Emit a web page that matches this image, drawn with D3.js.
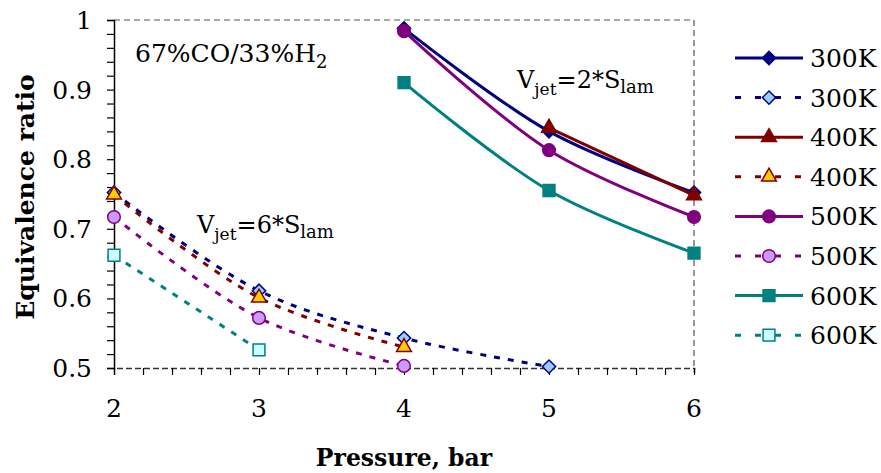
<!DOCTYPE html>
<html>
<head>
<meta charset="utf-8">
<script src="https://cdn.jsdelivr.net/npm/d3@7"></script>
<style>
  body { margin: 0; background: #fff; }
  svg text { font-family: "DejaVu Serif", serif; fill: #000; }
</style>
</head>
<body>
<svg id="chart" width="881" height="473"></svg>
<script>
// pressure (bar) where each group was measured
var xJet2 = [4, 5, 6],
    xJet6 = [2, 3, 4, 5];

// Vjet = 2*Slam (solid lines)
var jet2_300K = [0.988, 0.840, 0.752],
    jet2_400K = [null, 0.845, 0.748],
    jet2_500K = [0.984, 0.813, 0.717],
    jet2_600K = [0.910, 0.755, 0.665];

// Vjet = 6*Slam (dashed lines)
var jet6_300K = [0.752, 0.611, 0.543, 0.502],
    jet6_400K = [0.749, 0.601, 0.530, null],
    jet6_500K = [0.717, 0.572, 0.503, null],
    jet6_600K = [0.662, 0.526, null, null];

var xTicks = [2, 3, 4, 5, 6],
    yTicks = [0.5, 0.6, 0.7, 0.8, 0.9, 1];

var series = [
    {name: "300K", x: xJet2, y: jet2_300K, color: "#000080", fill: "#000080", shape: "diamond", dashed: false},
    {name: "300K", x: xJet6, y: jet6_300K, color: "#000080", fill: "#99ccff", shape: "diamond", dashed: true},
    {name: "400K", x: xJet2, y: jet2_400K, color: "#800000", fill: "#800000", shape: "triangle", dashed: false},
    {name: "400K", x: xJet6, y: jet6_400K, color: "#800000", fill: "#ffcc00", shape: "triangle", dashed: true},
    {name: "500K", x: xJet2, y: jet2_500K, color: "#800080", fill: "#800080", shape: "circle", dashed: false},
    {name: "500K", x: xJet6, y: jet6_500K, color: "#800080", fill: "#cc99ff", shape: "circle", dashed: true},
    {name: "600K", x: xJet2, y: jet2_600K, color: "#008080", fill: "#008080", shape: "square", dashed: false},
    {name: "600K", x: xJet6, y: jet6_600K, color: "#008080", fill: "#ccffff", shape: "square", dashed: true}
];

var margin = {top: 20, left: 114},
    innerwidth = 580,
    innerheight = 348;

var svg = d3.select("#chart");
var g = svg.append("g")
    .attr("transform", "translate(" + margin.left + "," + margin.top + ")");

var xScale = d3.scaleLinear().domain([2, 6]).range([0, innerwidth]);
var yScale = d3.scaleLinear().domain([0.5, 1]).range([innerheight, 0]);

var symbols = {
    diamond: d3.symbol().type(d3.symbolSquare).size(88),
    triangle: d3.symbol().type(d3.symbolTriangle).size(95),
    circle: d3.symbol().type(d3.symbolCircle).size(125),
    square: d3.symbol().type(d3.symbolSquare).size(140)
};
function markerRotation(shape) { return shape == "diamond" ? " rotate(45)" : ""; }

// dashed frame on top and right
g.append("path")
    .attr("d", "M0,0H" + innerwidth + "V" + innerheight)
    .attr("fill", "none")
    .attr("stroke", "#555")
    .attr("stroke-width", 1.2)
    .attr("stroke-dasharray", "6,4");

// x axis: minor ticks every 0.2
var xAxis = g.append("g")
    .attr("class", "x axis")
    .attr("transform", "translate(0," + innerheight + ")")
    .call(d3.axisBottom(xScale)
        .tickValues(d3.range(2, 6.01, 0.2))
        .tickSize(7)
        .tickFormat(""));
xAxis.select(".domain").attr("stroke", "#333").attr("stroke-dasharray", "6,3").attr("stroke-width", 1.5);
xAxis.selectAll(".tick line").attr("stroke", "#000").attr("stroke-width", 1.2);

g.append("g")
    .selectAll("text")
    .data(xTicks)
    .enter().append("text")
    .attr("x", function(d) { return xScale(d); })
    .attr("y", innerheight + 49)
    .attr("text-anchor", "middle")
    .style("font-size", "25px")
    .text(function(d) { return d; });

// y axis: minor ticks every 0.02
var yAxis = g.append("g")
    .attr("class", "y axis")
    .call(d3.axisLeft(yScale)
        .tickValues(d3.range(0, 26).map(function(i) { return 0.5 + i * 0.02; }))
        .tickSize(7)
        .tickFormat(""));
yAxis.select(".domain").attr("stroke", "#000").attr("stroke-width", 1.5);
yAxis.selectAll(".tick line").attr("stroke", "#000").attr("stroke-width", 1.2);

g.append("g")
    .selectAll("text")
    .data(yTicks)
    .enter().append("text")
    .attr("x", -22)
    .attr("y", function(d) { return yScale(d); })
    .attr("dy", "0.36em")
    .attr("text-anchor", "end")
    .style("font-size", "25px")
    .text(function(d) { return d; });

// lines and markers
var line = d3.line()
    .defined(function(d) { return d[1] != null; })
    .x(function(d) { return xScale(d[0]); })
    .y(function(d) { return yScale(d[1]); })
    .curve(d3.curveCatmullRom.alpha(0.5));

series.forEach(function(s) {
    var pts = s.x.map(function(x, i) { return [x, s.y[i]]; })
        .filter(function(d) { return d[1] != null; });
    g.append("path")
        .datum(pts)
        .attr("d", line)
        .attr("fill", "none")
        .attr("stroke", s.color)
        .attr("stroke-width", 3)
        .attr("stroke-dasharray", s.dashed ? "6,8" : null);
    g.selectAll(null)
        .data(pts)
        .enter().append("path")
        .attr("transform", function(d) {
            return "translate(" + xScale(d[0]) + "," + yScale(d[1]) + ")" + markerRotation(s.shape);
        })
        .attr("d", symbols[s.shape]())
        .attr("fill", s.fill)
        .attr("stroke", s.color)
        .attr("stroke-width", 1.5);
});

// annotations
var note1 = g.append("text").attr("x", 21).attr("y", 42).style("font-size", "25px");
note1.append("tspan").text("67%CO/33%H");
note1.append("tspan").attr("dy", 6).style("font-size", "18px").text("2");

function jetLabel(x, y, factor) {
    var t = g.append("text").attr("x", x).attr("y", y).style("font-size", "24px");
    t.append("tspan").text("V");
    t.append("tspan").attr("dy", 7).style("font-size", "17px").text("jet");
    t.append("tspan").attr("dy", -7).text("=" + factor + "*S");
    t.append("tspan").attr("dy", 5).style("font-size", "18px").text("lam");
}
jetLabel(403, 68, 2);
jetLabel(83, 213, 6);

// axis titles
svg.append("text")
    .attr("x", margin.left + innerwidth / 2)
    .attr("y", 466)
    .attr("text-anchor", "middle")
    .style("font-size", "23.5px")
    .style("font-weight", "bold")
    .text("Pressure, bar");

svg.append("text")
    .attr("transform", "translate(34,197) rotate(-90)")
    .attr("text-anchor", "middle")
    .style("font-size", "25px")
    .style("font-weight", "bold")
    .text("Equivalence ratio");

// legend
var legend = svg.append("g").attr("transform", "translate(735,58)");
var item = legend.selectAll("g")
    .data(series)
    .enter().append("g")
    .attr("transform", function(d, i) { return "translate(0," + (i * 39.6) + ")"; });
item.append("line")
    .attr("x1", 0).attr("x2", 68)
    .attr("stroke", function(d) { return d.color; })
    .attr("stroke-width", 3)
    .attr("stroke-dasharray", function(d) { return d.dashed ? "6,14" : null; });
item.append("path")
    .attr("transform", function(d) { return "translate(34,0)" + markerRotation(d.shape); })
    .attr("d", function(d) { return symbols[d.shape](); })
    .attr("fill", function(d) { return d.fill; })
    .attr("stroke", function(d) { return d.color; })
    .attr("stroke-width", 1.5);
item.append("text")
    .attr("x", 75)
    .attr("dy", "0.36em")
    .style("font-size", "25px")
    .text(function(d) { return d.name; });
</script>
</body>
</html>
